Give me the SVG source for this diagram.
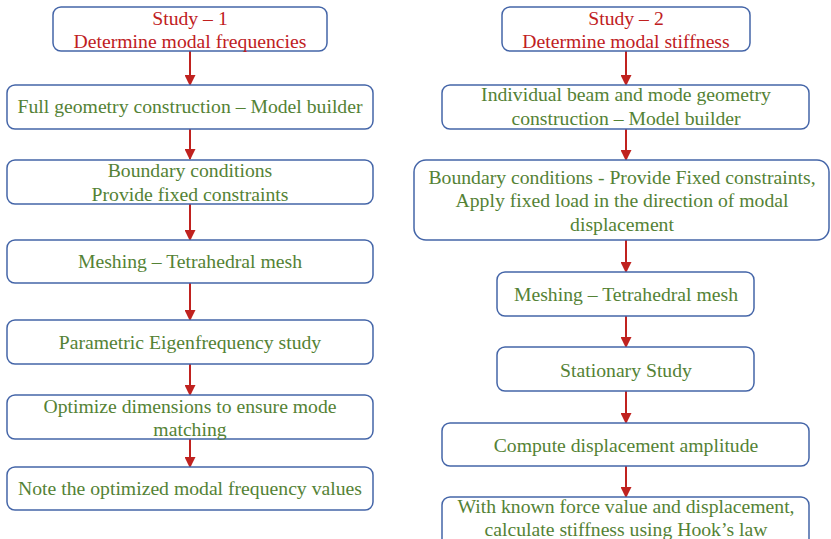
<svg xmlns="http://www.w3.org/2000/svg" width="831" height="539" viewBox="0 0 831 539">
  <defs>
    <marker id="arrow" markerWidth="11" markerHeight="11" refX="9" refY="5" orient="auto" markerUnits="userSpaceOnUse" viewBox="0 0 10 10">
      <path d="M0,0 L10,5 L0,10 z" fill="#c0221f"/>
    </marker>
    <style>
      .box { fill: #ffffff; stroke: #4465a8; stroke-width: 1.5; }
      .t { font-family: "Liberation Serif", "Times New Roman", serif; font-size: 19.7px; text-anchor: middle; fill: #548235; }
      .h { fill: #c0201e; }
      .edge { stroke: #c0221f; stroke-width: 2; fill: none; marker-end: url(#arrow); }
    </style>
  </defs>
  <rect width="831" height="539" fill="#ffffff"/>

  <!-- connectors -->
  <g id="connectors">
    <line class="edge" x1="190" y1="51" x2="190" y2="85"/>
    <line class="edge" x1="190" y1="129" x2="190" y2="159"/>
    <line class="edge" x1="190" y1="204" x2="190" y2="240"/>
    <line class="edge" x1="190" y1="283" x2="190" y2="320"/>
    <line class="edge" x1="190" y1="364" x2="190" y2="395"/>
    <line class="edge" x1="190" y1="439" x2="190" y2="467"/>
    <line class="edge" x1="626" y1="51" x2="626" y2="85"/>
    <line class="edge" x1="626" y1="129" x2="626" y2="160"/>
    <line class="edge" x1="626" y1="240" x2="626" y2="272"/>
    <line class="edge" x1="626" y1="316" x2="626" y2="347"/>
    <line class="edge" x1="626" y1="391" x2="626" y2="423"/>
    <line class="edge" x1="626" y1="466" x2="626" y2="497"/>
  </g>

  <!-- left column: study 1 -->
  <g id="s1-title">
    <rect class="box" x="53" y="7" width="274" height="44" rx="8"/>
    <text class="t h" x="190" y="25">Study – 1</text>
    <text class="t h" x="190" y="48">Determine modal frequencies</text>
  </g>
  <g id="s1-geometry">
    <rect class="box" x="7" y="85" width="366" height="44" rx="8"/>
    <text class="t" x="190" y="113">Full geometry construction – Model builder</text>
  </g>
  <g id="s1-boundary">
    <rect class="box" x="7" y="160" width="366" height="44" rx="8"/>
    <text class="t" x="190" y="177">Boundary conditions</text>
    <text class="t" x="190" y="201">Provide fixed constraints</text>
  </g>
  <g id="s1-mesh">
    <rect class="box" x="7" y="240" width="366" height="43" rx="8"/>
    <text class="t" x="190" y="268">Meshing – Tetrahedral mesh</text>
  </g>
  <g id="s1-eigen">
    <rect class="box" x="7" y="320" width="366" height="44" rx="8"/>
    <text class="t" x="190" y="349">Parametric Eigenfrequency study</text>
  </g>
  <g id="s1-optimize">
    <rect class="box" x="7" y="395" width="366" height="44" rx="8"/>
    <text class="t" x="190" y="413">Optimize dimensions to ensure mode</text>
    <text class="t" x="190" y="436">matching</text>
  </g>
  <g id="s1-note">
    <rect class="box" x="7" y="467" width="366" height="43" rx="8"/>
    <text class="t" x="190" y="495">Note the optimized modal frequency values</text>
  </g>

  <!-- right column: study 2 -->
  <g id="s2-title">
    <rect class="box" x="502" y="7" width="248" height="44" rx="8"/>
    <text class="t h" x="626" y="25">Study – 2</text>
    <text class="t h" x="626" y="48">Determine modal stiffness</text>
  </g>
  <g id="s2-geometry">
    <rect class="box" x="442" y="85" width="367" height="44" rx="8"/>
    <text class="t" x="626" y="101">Individual beam and mode geometry</text>
    <text class="t" x="626" y="125">construction – Model builder</text>
  </g>
  <g id="s2-boundary">
    <rect class="box" x="414" y="160" width="415" height="80" rx="12"/>
    <text class="t" x="622" y="184">Boundary conditions - Provide Fixed constraints,</text>
    <text class="t" x="622" y="207">Apply fixed load in the direction of modal</text>
    <text class="t" x="622" y="231">displacement</text>
  </g>
  <g id="s2-mesh">
    <rect class="box" x="497" y="272" width="257" height="44" rx="8"/>
    <text class="t" x="626" y="301">Meshing – Tetrahedral mesh</text>
  </g>
  <g id="s2-stationary">
    <rect class="box" x="497" y="347" width="257" height="44" rx="8"/>
    <text class="t" x="626" y="377">Stationary Study</text>
  </g>
  <g id="s2-displacement">
    <rect class="box" x="442" y="423" width="367" height="43" rx="8"/>
    <text class="t" x="626" y="452">Compute displacement amplitude</text>
  </g>
  <g id="s2-stiffness">
    <rect class="box" x="442" y="497" width="367" height="50" rx="8"/>
    <text class="t" x="626" y="513">With known force value and displacement,</text>
    <text class="t" x="626" y="536">calculate stiffness using Hook’s law</text>
  </g>
</svg>
